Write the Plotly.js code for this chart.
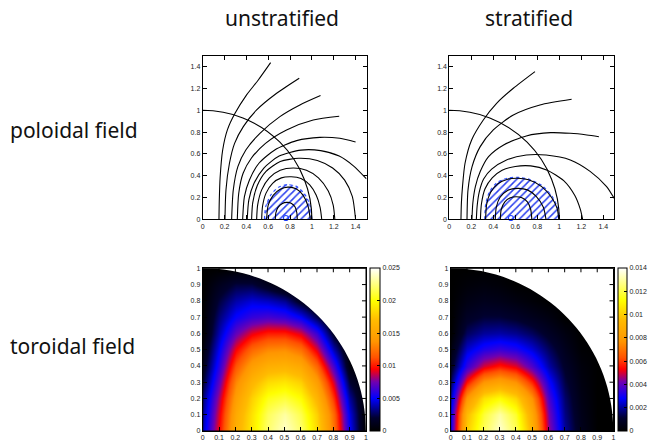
<!DOCTYPE html>
<html><head><meta charset="utf-8">
<script src="https://cdn.plot.ly/plotly-3.0.1.min.js"></script>
<style>html,body{margin:0;padding:0;background:#fff;}#chart{width:651px;height:442px;}</style>
</head><body><div id="chart"></div>
<script>
// ---------- text ----------
const columnTitles = ['unstratified', 'stratified'];
const rowTitles = ['poloidal field', 'toroidal field'];

// ---------- poloidal field lines, unstratified ----------
const unstratLinesX = [
  [0.149,0.152,0.160,0.183,0.226,0.296,0.402,0.509,0.622],
  [0.204,0.213,0.245,0.292,0.372,0.494,0.677,0.884],
  [0.265,0.280,0.322,0.395,0.524,0.707,0.890,1.079],
  [0.317,0.330,0.370,0.445,0.575,0.768,1.012,1.25],
  [0.366,0.382,0.428,0.515,0.660,0.860,1.073,1.256,1.40],
  [0.408,0.423,0.47,0.56,0.70,0.90,1.08,1.25,1.38,1.50],
  [0.448,0.458,0.50,0.58,0.71,0.88,1.05,1.19,1.30,1.37,1.40],
  [0.494,0.503,0.54,0.61,0.71,0.83,0.95,1.06,1.15,1.195,1.21],
  [0.54,0.548,0.58,0.64,0.72,0.81,0.90,0.98,1.04,1.075,1.09],
  [0.585,0.60,0.645,0.71,0.78,0.855,0.92,0.965,0.985],
  [0.665,0.67,0.69,0.73,0.77,0.81,0.845,0.862,0.866]
];
const unstratLinesY = [
  [0,0.177,0.391,0.636,0.820,0.972,1.141,1.278,1.437],
  [0,0.269,0.514,0.697,0.850,1.003,1.156,1.294],
  [0,0.269,0.483,0.636,0.789,0.942,1.049,1.135],
  [0,0.239,0.422,0.560,0.697,0.820,0.911,0.945],
  [0,0.208,0.361,0.514,0.636,0.722,0.752,0.743,0.71],
  [0,0.18,0.33,0.47,0.58,0.635,0.63,0.58,0.49,0.37],
  [0,0.15,0.31,0.44,0.53,0.56,0.54,0.47,0.36,0.21,0],
  [0,0.13,0.27,0.38,0.45,0.47,0.45,0.38,0.26,0.13,0],
  [0,0.12,0.24,0.33,0.38,0.39,0.375,0.315,0.22,0.11,0],
  [0,0.13,0.22,0.275,0.295,0.28,0.22,0.12,0],
  [0,0.06,0.11,0.145,0.155,0.148,0.115,0.06,0]
];
const unstratHatchX = [0.565,0.578,0.625,0.695,0.78,0.865,0.935,0.982,1.0];
const unstratHatchY = [0,0.12,0.225,0.295,0.318,0.298,0.23,0.13,0];
const unstratNeutral = [0.762, 0.012];

// ---------- poloidal field lines, stratified ----------
const stratLinesX = [
  [0.106,0.110,0.120,0.143,0.203,0.309,0.430,0.582,0.779],
  [0.161,0.170,0.207,0.281,0.40,0.582,0.824,1.112],
  [0.206,0.214,0.237,0.282,0.357,0.49,0.70,0.92,1.10,1.25,1.36],
  [0.246,0.253,0.272,0.312,0.385,0.52,0.70,0.88,1.10,1.28,1.43,1.50],
  [0.283,0.292,0.325,0.39,0.48,0.60,0.74,0.89,1.04,1.14,1.19,1.212],
  [0.33,0.34,0.375,0.44,0.53,0.62,0.72,0.84,0.93,0.98,0.995],
  [0.418,0.427,0.46,0.53,0.62,0.71,0.79,0.855,0.879],
  [0.464,0.472,0.505,0.555,0.607,0.66,0.71,0.74,0.75]
];
const stratLinesY = [
  [0,0.15,0.30,0.514,0.728,0.911,1.064,1.202,1.355],
  [0,0.269,0.483,0.667,0.82,0.957,1.049,1.101],
  [0,0.15,0.30,0.44,0.575,0.68,0.765,0.795,0.789,0.774,0.758],
  [0,0.12,0.25,0.37,0.46,0.545,0.59,0.59,0.545,0.44,0.30,0.19],
  [0,0.14,0.28,0.38,0.45,0.485,0.49,0.45,0.355,0.22,0.095,0],
  [0,0.14,0.245,0.325,0.368,0.377,0.362,0.30,0.20,0.10,0],
  [0,0.11,0.20,0.265,0.284,0.27,0.21,0.11,0],
  [0,0.09,0.16,0.198,0.207,0.198,0.16,0.09,0]
];
const stratHatchX = [0.322,0.331,0.366,0.433,0.53,0.62,0.72,0.845,0.937,0.987,1.002];
const stratHatchY = [0,0.14,0.252,0.336,0.378,0.385,0.369,0.307,0.207,0.10,0];
const stratNeutral = [0.56, 0.012];
const surfaceRadius = 1;

// ---------- toroidal field grids (x = gridX, rows = gridY) ----------
const gridX = [0,0.1,0.2,0.3,0.4,0.5,0.6,0.7,0.8,0.9,1.0];
const gridY = [0,0.1,0.2,0.3,0.4,0.5,0.6,0.7,0.8,0.9,1.0];
const zUnstrat = [
  [0.0040,0.0095,0.0160,0.0190,0.0222,0.0240,0.0222,0.0185,0.0125,0.0050,0],
  [0.0035,0.0090,0.0155,0.0188,0.0218,0.0232,0.0215,0.0180,0.0120,0.0045,0],
  [0.0030,0.0082,0.0145,0.0180,0.0205,0.0212,0.0200,0.0165,0.0105,0.0035,0],
  [0.0020,0.0070,0.0132,0.0165,0.0185,0.0190,0.0180,0.0145,0.0088,0.0020,0],
  [0.0012,0.0058,0.0114,0.0145,0.0160,0.0163,0.0154,0.0120,0.0065,0.0005,0],
  [0.0006,0.0048,0.0094,0.0120,0.0132,0.0134,0.0123,0.0090,0.0038,0,0],
  [0,0.0038,0.0072,0.0092,0.0101,0.0101,0.0090,0.0062,0.0015,0,0],
  [0,0.0030,0.0052,0.0062,0.0066,0.0062,0.0050,0.0025,0,0,0],
  [0,0.0022,0.0038,0.0045,0.0042,0.0035,0.0015,0,0,0,0],
  [0,0.0012,0.0022,0.0022,0.0012,0,0,0,0,0,0],
  [0,0,0,0,0,0,0,0,0,0,0]
];
const zStrat = [
  [0.0030,0.0100,0.0122,0.0135,0.0122,0.0092,0.0045,0.0020,0.0007,0,0],
  [0.0028,0.0095,0.0118,0.0130,0.0117,0.0087,0.0042,0.0018,0.0006,0,0],
  [0.0022,0.0078,0.0105,0.0112,0.0102,0.0077,0.0037,0.0016,0.0005,0,0],
  [0.0015,0.0055,0.0078,0.0084,0.0077,0.0058,0.0030,0.0013,0.0004,0,0],
  [0.0008,0.0034,0.0050,0.0056,0.0051,0.0038,0.0021,0.0010,0.0003,0,0],
  [0.0004,0.0024,0.0032,0.0035,0.0032,0.0025,0.0015,0.0007,0.0001,0,0],
  [0,0.0015,0.0020,0.0021,0.0019,0.0015,0.0009,0.0004,0,0,0],
  [0,0.0009,0.0012,0.0012,0.0010,0.0007,0.0004,0,0,0,0],
  [0,0.0005,0.0007,0.0006,0.0004,0.0002,0,0,0,0,0],
  [0,0.0002,0.0003,0.0002,0,0,0,0,0,0,0],
  [0,0,0,0,0,0,0,0,0,0,0]
];
const zMaxUnstrat = 0.025, zMaxStrat = 0.014;
const cbDtickUnstrat = 0.005, cbDtickStrat = 0.002;

// ---------- styling ----------
const W = 651, H = 442;
const px = v => v / W, py = v => 1 - v / H;
const tickFont = {family: 'Liberation Sans, Arial, sans-serif', size: 7, color: '#222'};
const heatScale = [[0,'#000000'],[0.08,'#00002e'],[0.2,'#0000ff'],[0.3,'#7000b0'],[0.38,'#ff0000'],
  [0.45,'#ff5200'],[0.55,'#ff9600'],[0.68,'#ffbb00'],[0.8,'#ffff00'],[0.92,'#ffff98'],[1,'#ffffff']];

function axis(domain, range, dtick, anchor) {
  return {domain, range, dtick, tick0: 0, anchor, showline: true, linecolor: '#000', linewidth: 1,
    mirror: 'ticks', ticks: 'inside', ticklen: 4, tickcolor: '#000', tickwidth: 1,
    showgrid: false, zeroline: false, tickfont: tickFont, fixedrange: true};
}

const traces = [];
function addPoloidal(linesX, linesY, hx, hy, neutral, xa, ya) {
  traces.push({type: 'scatter', mode: 'lines', x: hx, y: hy, xaxis: xa, yaxis: ya, fill: 'toself',
    fillcolor: '#1f35e8',
    fillpattern: {shape: '/', fgcolor: '#2a40ee', bgcolor: 'rgba(255,255,255,0)', size: 5, solidity: 0.3},
    line: {color: '#3050ff', width: 1.2, dash: 'dot', shape: 'spline', smoothing: 0.7}, hoverinfo: 'skip', showlegend: false});
  linesX.forEach((lx, i) => traces.push({type: 'scatter', mode: 'lines', x: lx, y: linesY[i], xaxis: xa, yaxis: ya,
    line: {color: '#000', width: 1.1, shape: 'spline', smoothing: 0.7}, hoverinfo: 'skip', showlegend: false}));
  traces.push({type: 'scatter', mode: 'markers', x: [neutral[0]], y: [neutral[1]], xaxis: xa, yaxis: ya,
    cliponaxis: false, marker: {symbol: 'circle-open', size: 5, color: '#2040ff', line: {width: 1.2}},
    hoverinfo: 'skip', showlegend: false});
}
addPoloidal(unstratLinesX, unstratLinesY, unstratHatchX, unstratHatchY, unstratNeutral, 'x', 'y');
addPoloidal(stratLinesX, stratLinesY, stratHatchX, stratHatchY, stratNeutral, 'x2', 'y2');

function cbar(left, thick, dtick) {
  return {x: px(left), xanchor: 'left', xpad: 0, y: py(431), yanchor: 'bottom', ypad: 0,
    len: (431 - 268.3) / H, lenmode: 'fraction', thickness: thick, thicknessmode: 'pixels',
    outlinewidth: 1, outlinecolor: '#000', ticks: 'inside', ticklen: 3, tickcolor: '#000',
    tick0: 0, dtick, tickfont: tickFont, borderwidth: 0};
}
traces.push({type: 'heatmap', x: gridX, y: gridY, z: zUnstrat, zmin: 0, zmax: zMaxUnstrat, zsmooth: 'best',
  colorscale: heatScale, xaxis: 'x3', yaxis: 'y3', colorbar: cbar(370, 10, cbDtickUnstrat), hoverinfo: 'skip'});
traces.push({type: 'heatmap', x: gridX, y: gridY, z: zStrat, zmin: 0, zmax: zMaxStrat, zsmooth: 'best',
  colorscale: heatScale, xaxis: 'x4', yaxis: 'y4', colorbar: cbar(617.7, 9, cbDtickStrat), hoverinfo: 'skip'});

const maskPath = 'M1,0 C1,0.5523 0.5523,1 0,1 L0,1.3 L1.3,1.3 L1.3,0 Z';
const shapes = [
  {type: 'circle', xref: 'x', yref: 'y', x0: -surfaceRadius, y0: -surfaceRadius, x1: surfaceRadius, y1: surfaceRadius, line: {color: '#000', width: 1.1}},
  {type: 'circle', xref: 'x2', yref: 'y2', x0: -surfaceRadius, y0: -surfaceRadius, x1: surfaceRadius, y1: surfaceRadius, line: {color: '#000', width: 1.1}},
  {type: 'path', xref: 'x3', yref: 'y3', path: maskPath, fillcolor: '#fff', line: {width: 0}, layer: 'above'},
  {type: 'path', xref: 'x4', yref: 'y4', path: maskPath, fillcolor: '#fff', line: {width: 0}, layer: 'above'},
  {type: 'rect', xref: 'x3 domain', yref: 'y3 domain', x0: 0, x1: 1, y0: 0, y1: 1, line: {color: '#000', width: 1}},
  {type: 'rect', xref: 'x4 domain', yref: 'y4 domain', x0: 0, x1: 1, y0: 0, y1: 1, line: {color: '#000', width: 1}}
];
// restore the mirrored top/right ticks hidden by the white mask (tick length 4 px of a 163 px axis)
const tickFrac = 4 / 163;
['3', '4'].forEach(s => gridX.slice(1, -1).forEach(t => {
  shapes.push({type: 'line', xref: 'x' + s, yref: 'y' + s + ' domain', x0: t, x1: t, y0: 1, y1: 1 - tickFrac, line: {color: '#000', width: 1}});
  shapes.push({type: 'line', xref: 'x' + s + ' domain', yref: 'y' + s, x0: 1, x1: 1 - tickFrac, y0: t, y1: t, line: {color: '#000', width: 1}});
}));

const titleFont = {family: 'Noto Sans, Open Sans, sans-serif', size: 21, color: '#111'};
const annotations = [
  {text: columnTitles[0], x: px(281.7), y: py(18), xref: 'paper', yref: 'paper', showarrow: false, font: titleFont, xanchor: 'center', yanchor: 'middle'},
  {text: columnTitles[1], x: px(529), y: py(18), xref: 'paper', yref: 'paper', showarrow: false, font: titleFont, xanchor: 'center', yanchor: 'middle'},
  {text: rowTitles[0], x: px(8), y: py(130), xref: 'paper', yref: 'paper', showarrow: false, font: titleFont, xanchor: 'left', yanchor: 'middle'},
  {text: rowTitles[1], x: px(8), y: py(346), xref: 'paper', yref: 'paper', showarrow: false, font: titleFont, xanchor: 'left', yanchor: 'middle'}
];

const layout = {
  width: W, height: H, margin: {l: 0, r: 0, t: 0, b: 0}, paper_bgcolor: '#fff', plot_bgcolor: '#fff',
  showlegend: false,
  xaxis: axis([px(202.7), px(366.5)], [0, 1.5], 0.2, 'y'),
  yaxis: axis([py(219.3), py(55.8)], [0, 1.5], 0.2, 'x'),
  xaxis2: axis([px(449.3), px(614.3)], [0, 1.5], 0.2, 'y2'),
  yaxis2: axis([py(219.3), py(55.8)], [0, 1.5], 0.2, 'x2'),
  xaxis3: axis([px(202.7), px(366)], [0, 1], 0.1, 'y3'),
  yaxis3: axis([py(431), py(268.3)], [0, 1], 0.1, 'x3'),
  xaxis4: axis([px(450.7), px(613.5)], [0, 1], 0.1, 'y4'),
  yaxis4: axis([py(431), py(268.3)], [0, 1], 0.1, 'x4'),
  shapes, annotations
};
Plotly.newPlot('chart', traces, layout, {staticPlot: true, displayModeBar: false});
</script>
</body></html>
